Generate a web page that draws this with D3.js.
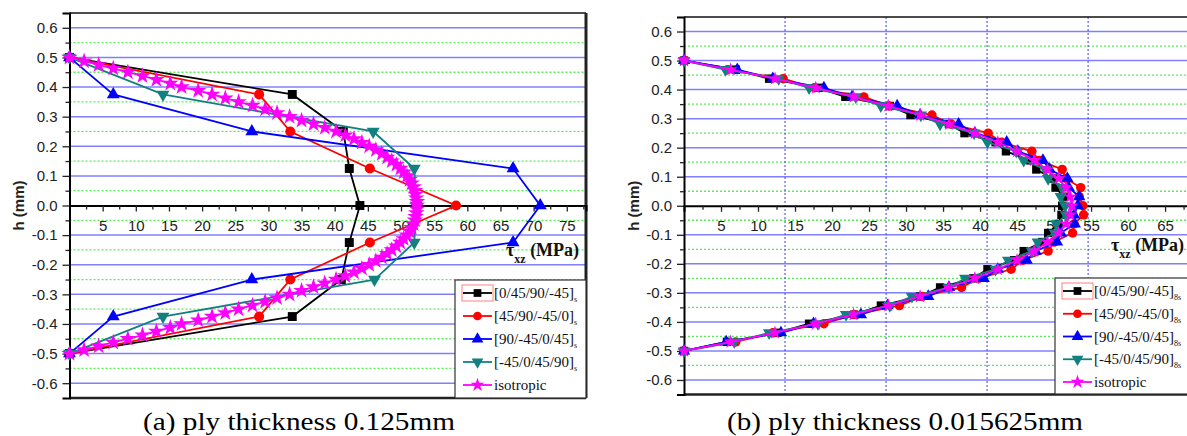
<!DOCTYPE html>
<html>
<head>
<meta charset="utf-8">
<script src="https://cdn.jsdelivr.net/npm/d3@7"></script>
<style>
	body { margin: 0; background: #fff; }
	svg { display: block; }
</style>
</head>
<body>
<script>
/* shear stress profiles, two panels */

// ---- data ----
var hLevelsA = [0.5, 0.375, 0.25, 0.125, 0, -0.125, -0.25, -0.375, -0.5];
var tauA_0_45 = [0, 33.6, 41.3, 42.2, 43.8, 42.2, 41.0, 33.6, 0];
var tauA_45_90 = [0, 28.6, 33.3, 45.3, 58.3, 45.3, 33.3, 28.6, 0];
var tauA_90_m45 = [0, 6.6, 27.5, 66.9, 71.0, 66.9, 27.5, 6.6, 0];
var tauA_m45_0 = [0, 14.1, 45.8, 52.0, 52.3, 52.0, 46.0, 14.1, 0];

var hIsoA = [0.5, 0.4875, 0.475, 0.4625, 0.45, 0.4375, 0.425, 0.4125, 0.4, 0.3875, 0.375, 0.3625, 0.35, 0.3375,
	0.325, 0.3125, 0.3, 0.2875, 0.275, 0.2625, 0.25, 0.2375, 0.225, 0.2125, 0.2, 0.1875, 0.175, 0.1625, 0.15,
	0.1375, 0.125, 0.1125, 0.1, 0.0875, 0.075, 0.0625, 0.05, 0.0375, 0.025, 0.0125, 0,
	-0.0125, -0.025, -0.0375, -0.05, -0.0625, -0.075, -0.0875, -0.1, -0.1125, -0.125, -0.1375, -0.15, -0.1625,
	-0.175, -0.1875, -0.2, -0.2125, -0.225, -0.2375, -0.25, -0.2625, -0.275, -0.2875, -0.3, -0.3125, -0.325,
	-0.3375, -0.35, -0.3625, -0.375, -0.3875, -0.4, -0.4125, -0.425, -0.4375, -0.45, -0.4625, -0.475, -0.4875, -0.5];
var tauIsoA = [0, 2.2, 4.4, 6.6, 8.8, 11.0, 13.1, 15.2, 16.9, 19.4, 21.5, 23.5, 25.5, 27.6,
	29.5, 31.3, 33.2, 35.0, 36.8, 38.5, 40.2, 41.6, 42.9, 44.1, 45.2, 46.2, 47.1, 47.9, 48.6,
	49.3, 49.9, 50.4, 50.9, 51.3, 51.6, 51.9, 52.1, 52.2, 52.3, 52.4, 52.4,
	52.4, 52.3, 52.2, 52.1, 51.9, 51.6, 51.3, 50.9, 50.4, 49.9, 49.3, 48.6, 47.9,
	47.1, 46.2, 45.2, 44.1, 42.9, 41.6, 40.2, 38.5, 36.8, 35.0, 33.2, 31.3, 29.5,
	27.6, 25.5, 23.5, 21.5, 19.4, 16.9, 15.2, 13.1, 11.0, 8.8, 6.6, 4.4, 2.2, 0];

var hLevelsB = [0.5, 0.46875, 0.4375, 0.40625, 0.375, 0.34375, 0.3125, 0.28125, 0.25, 0.21875, 0.1875,
	0.15625, 0.125, 0.09375, 0.0625, 0.03125, 0, -0.03125, -0.0625, -0.09375, -0.125, -0.15625, -0.1875,
	-0.21875, -0.25, -0.28125, -0.3125, -0.34375, -0.375, -0.40625, -0.4375, -0.46875, -0.5];
var tauB_0_45 = [0, 7.0, 11.5, 18.2, 21.8, 27.8, 30.6, 35.8, 37.9, 42.1, 43.5, 46.8, 47.6, 49.9, 50.2, 51.3, 51.1,
	51.0, 50.6, 49.2, 48.4, 45.9, 44.6, 41.0, 39.1, 34.6, 31.9, 26.6, 23.0, 16.9, 12.6, 5.8, 0];
var tauB_45_90 = [0, 5.9, 13.4, 17.6, 24.3, 27.7, 33.5, 36.1, 41.1, 42.9, 47.0, 48.0, 51.1, 51.6, 53.6, 53.4, 53.9,
	54.0, 52.7, 52.5, 50.0, 49.2, 45.8, 44.2, 39.8, 37.5, 32.2, 29.1, 23.0, 18.9, 12.0, 7.0, 0];
var tauB_90_m45 = [0, 7.2, 12.0, 18.9, 22.7, 28.8, 31.9, 37.1, 39.3, 43.6, 45.1, 48.5, 49.4, 51.8, 52.0, 53.4, 53.2,
	52.7, 52.8, 50.9, 50.4, 47.5, 46.3, 42.4, 40.5, 35.8, 33.0, 27.5, 23.9, 17.5, 13.1, 5.7, 0];
var tauB_m45_0 = [0, 5.6, 12.8, 16.9, 23.2, 26.6, 32.0, 34.6, 39.2, 41.0, 44.9, 45.9, 48.8, 49.2, 51.1, 50.9, 51.5,
	51.6, 50.3, 50.1, 47.8, 47.0, 43.8, 42.1, 38.0, 35.8, 30.8, 27.8, 21.9, 18.1, 11.5, 6.8, 0];
var tauB_iso = [0, 6.3, 12.3, 17.8, 22.9, 27.6, 31.9, 35.8, 39.3, 42.4, 45.0, 47.3, 49.1, 50.6, 51.6, 52.2, 52.4,
	52.2, 51.6, 50.6, 49.1, 47.3, 45.0, 42.4, 39.3, 35.8, 31.9, 27.6, 22.9, 17.8, 12.3, 6.3, 0];

var legendLabels = ["[0/45/90/-45]", "[45/90/-45/0]", "[90/-45/0/45]", "[-45/0/45/90]", "isotropic"];
var legendSubsA = ["s", "s", "s", "s", ""];
var legendSubsB = ["8s", "8s", "8s", "8s", ""];

var xTicksA = [5, 10, 15, 20, 25, 30, 35, 40, 45, 50, 55, 60, 65, 70, 75];
var xTicksB = [5, 10, 15, 20, 25, 30, 35, 40, 45, 50, 55, 60, 65];
var yTicks = [-0.6, -0.5, -0.4, -0.3, -0.2, -0.1, 0, 0.1, 0.2, 0.3, 0.4, 0.5, 0.6];
var yMinor = [-0.55, -0.45, -0.35, -0.25, -0.15, -0.05, 0.05, 0.15, 0.25, 0.35, 0.45, 0.55];
var xGridB = [13.65, 27.3, 40.95, 54.6];

var captionA = "(a) ply thickness 0.125mm";
var captionB = "(b) ply thickness 0.015625mm";

// ---- styles ----
var colors = ["#000000", "#ff0000", "#0000ff", "#138080", "#ff00ff"];
var symbols = [d3.symbolSquare, d3.symbolCircle, d3.symbolTriangle, d3.symbolTriangle, d3.symbolStar];
var rotations = [0, 0, 0, 180, 0];
var serif = "'Liberation Serif', 'Times New Roman', Times, serif";
var sans = "'Liberation Sans', Arial, sans-serif";

var panelA = {
	left: 69.5, right: 586, top: 13, bottom: 398, xMax: 77.9,
	xTicks: xTicksA, xGrid: [],
	series: [
		{ h: hLevelsA, tau: tauA_0_45 },
		{ h: hLevelsA, tau: tauA_45_90 },
		{ h: hLevelsA, tau: tauA_90_m45 },
		{ h: hLevelsA, tau: tauA_m45_0 },
		{ h: hIsoA, tau: tauIsoA }
	],
	sizes: [80, 80, 72, 72, 85],
	subs: legendSubsA,
	legend: { x: 455, y: 280, w: 131, h: 118, row0: 293, dy: 23 },
	yLabelX: 19, titleX: 506, titleY: 256,
	caption: captionA, capX: 299, capW: 312
};

var panelB = {
	left: 684, right: 1189.5, top: 17, bottom: 394.5, xMax: 68.3,
	xTicks: xTicksB, xGrid: xGridB,
	series: [
		{ h: hLevelsB, tau: tauB_0_45 },
		{ h: hLevelsB, tau: tauB_45_90 },
		{ h: hLevelsB, tau: tauB_90_m45 },
		{ h: hLevelsB, tau: tauB_m45_0 },
		{ h: hLevelsB, tau: tauB_iso }
	],
	sizes: [70, 70, 66, 66, 60],
	subs: legendSubsB,
	legend: { x: 1055, y: 278, w: 134, h: 116, row0: 291, dy: 22.75 },
	yLabelX: 634, titleX: 1111, titleY: 251,
	caption: captionB, capX: 905, capW: 356
};

var chart = {
	render: function() {
		var svg = d3.select("body").append("svg")
			.attr("width", 1187)
			.attr("height", 436);

		chart.renderPanel(svg, panelA);
		chart.renderPanel(svg, panelB);
	},

	renderPanel: function(svg, p) {
		var x = d3.scaleLinear().domain([0, p.xMax]).range([p.left, p.right]);
		var y = d3.scaleLinear().domain([-0.65, 0.65]).range([p.bottom, p.top]);
		var g = svg.append("g");

		// grid
		yMinor.forEach(function(v) {
			g.append("line")
				.attr("x1", p.left).attr("x2", p.right)
				.attr("y1", y(v)).attr("y2", y(v))
				.style("stroke", "#55ee55")
				.style("stroke-width", 1.3)
				.style("stroke-dasharray", "2,2");
		});
		yTicks.forEach(function(v) {
			if (v === 0) return;
			g.append("line")
				.attr("x1", p.left).attr("x2", p.right)
				.attr("y1", y(v)).attr("y2", y(v))
				.style("stroke", "#8080ff")
				.style("stroke-width", 1.5);
		});
		p.xGrid.forEach(function(v) {
			g.append("line")
				.attr("x1", x(v)).attr("x2", x(v))
				.attr("y1", p.top).attr("y2", p.bottom)
				.style("stroke", "#3a3aff")
				.style("stroke-width", 1)
				.style("stroke-dasharray", "2,2");
		});

		// frame
		g.append("line").attr("x1", p.left).attr("x2", p.right).attr("y1", p.top).attr("y2", p.top)
			.style("stroke", "#111").style("stroke-width", 1.6);
		g.append("line").attr("x1", p.left).attr("x2", p.right).attr("y1", p.bottom).attr("y2", p.bottom)
			.style("stroke", "#222").style("stroke-width", 2.5);
		g.append("line").attr("x1", p.right).attr("x2", p.right).attr("y1", p.top).attr("y2", p.bottom)
			.style("stroke", "#222").style("stroke-width", 3);

		// y axis
		var yAxis = g.append("g")
			.attr("transform", "translate(" + p.left + ",0)")
			.call(d3.axisLeft(y).tickValues(yTicks).tickSize(7).tickPadding(5)
				.tickFormat(function(d) { return d.toFixed(1); }));
		g.append("g")
			.attr("transform", "translate(" + p.left + ",0)")
			.call(d3.axisLeft(y).tickValues(yMinor).tickSize(4).tickFormat(""))
			.select(".domain").remove();
		yAxis.select(".domain").style("stroke-width", 2);

		// x axis through h = 0
		var xAxis = g.append("g")
			.attr("transform", "translate(0," + y(0) + ")")
			.call(d3.axisBottom(x).tickValues(p.xTicks).tickSize(6).tickPadding(9)
				.tickFormat(d3.format("d")));
		g.append("g")
			.attr("transform", "translate(0," + y(0) + ")")
			.call(d3.axisBottom(x).tickValues(d3.range(2.5, p.xMax, 5)).tickSize(4).tickFormat(""))
			.select(".domain").remove();
		xAxis.select(".domain").style("stroke-width", 2);

		g.selectAll(".tick line").style("stroke", "#222").style("stroke-width", 1.3);
		g.selectAll(".tick text")
			.style("font-family", sans)
			.style("font-size", "15px")
			.style("fill", "#222");

		// series
		p.series.forEach(function(s, i) {
			var pts = s.h.map(function(h, k) { return [s.tau[k], h]; });
			g.append("path")
				.datum(pts)
				.attr("d", d3.line().x(function(d) { return x(d[0]); }).y(function(d) { return y(d[1]); }))
				.style("fill", "none")
				.style("stroke", colors[i])
				.style("stroke-width", 1.8);
			g.selectAll(".m" + i)
				.data(pts)
				.enter().append("path")
				.attr("d", d3.symbol().type(symbols[i]).size(p.sizes[i]))
				.attr("transform", function(d) {
					return "translate(" + x(d[0]) + "," + y(d[1]) + ") rotate(" + rotations[i] + ")";
				})
				.style("fill", colors[i]);
		});

		chart.renderLegend(g, p);

		// titles
		g.append("text")
			.attr("transform", "translate(" + p.yLabelX + "," + y(0) + ") rotate(-90)")
			.attr("text-anchor", "middle")
			.attr("dy", "0.35em")
			.style("font-family", sans)
			.style("font-size", "15px")
			.style("font-weight", "bold")
			.style("fill", "#222")
			.text("h (mm)");

		var t = g.append("text")
			.attr("x", p.titleX)
			.attr("y", p.titleY)
			.style("font-family", serif)
			.style("font-size", "18px")
			.style("font-weight", "bold")
			.style("fill", "#111");
		t.append("tspan").text("τ");
		t.append("tspan").attr("dy", 7).style("font-size", "12px").text("xz");
		t.append("tspan").attr("dy", -7).text(" (MPa)");

		g.append("text")
			.attr("x", p.capX)
			.attr("y", 430)
			.attr("text-anchor", "middle")
			.attr("textLength", p.capW)
			.attr("lengthAdjust", "spacingAndGlyphs")
			.style("font-family", serif)
			.style("font-size", "25px")
			.style("fill", "#000")
			.text(p.caption);
	},

	renderLegend: function(g, p) {
		var L = p.legend;
		g.append("rect")
			.attr("x", L.x).attr("y", L.y)
			.attr("width", L.w).attr("height", L.h)
			.style("fill", "#fff")
			.style("stroke", "#333")
			.style("stroke-width", 1.2);

		legendLabels.forEach(function(label, i) {
			var ry = L.row0 + i * L.dy;
			if (i === 0) {
				g.append("rect")
					.attr("x", L.x + 7).attr("y", ry - 8)
					.attr("width", 31).attr("height", 16)
					.style("fill", "none")
					.style("stroke", "#ff8080")
					.style("stroke-width", 1);
			}
			g.append("line")
				.attr("x1", L.x + 8).attr("x2", L.x + 37)
				.attr("y1", ry).attr("y2", ry)
				.style("stroke", colors[i])
				.style("stroke-width", 1.8);
			g.append("path")
				.attr("d", d3.symbol().type(symbols[i]).size(60))
				.attr("transform", "translate(" + (L.x + 22.5) + "," + ry + ") rotate(" + rotations[i] + ")")
				.style("fill", colors[i]);
			var txt = g.append("text")
				.attr("x", L.x + 39)
				.attr("y", ry + 5)
				.style("font-family", serif)
				.style("font-size", "15px")
				.style("fill", "#111");
			txt.append("tspan").text(label);
			if (p.subs[i]) {
				txt.append("tspan").attr("dy", 4).style("font-size", "8px").text(p.subs[i]);
			}
		});
	}
};

chart.render();
</script>
</body>
</html>
